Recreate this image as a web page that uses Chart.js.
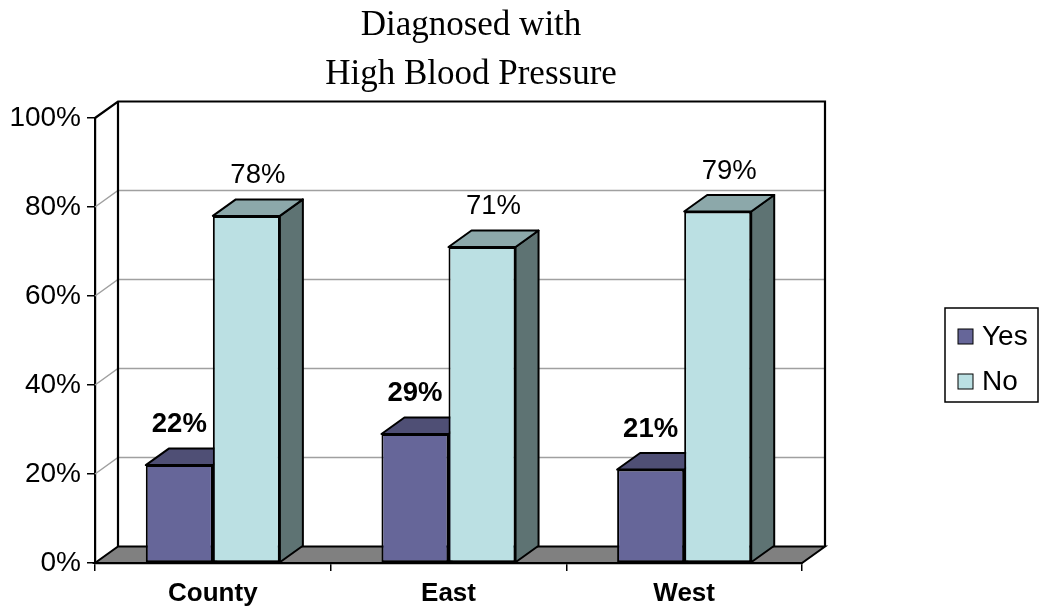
<!DOCTYPE html>
<html>
<head>
<meta charset="utf-8">
<script src="https://cdn.jsdelivr.net/npm/chart.js@4"></script>
<style>
  html, body { margin: 0; padding: 0; background: #ffffff; }
  #wrap { width: 1040px; height: 609px; position: relative; }
</style>
</head>
<body>
<div id="wrap"><canvas id="c" width="1040" height="609"></canvas></div>
<script>
// ---- data ----
const titleLines = ['Diagnosed with', 'High Blood Pressure'];
const categories = ['County', 'East', 'West'];
const seriesNames = ['Yes', 'No'];
const yesValues = [22, 29, 21];
const noValues = [78, 71, 79];
const yTickValues = [0, 20, 40, 60, 80, 100];

// ---- styles ----
const SANS = "'Liberation Sans', Arial, sans-serif";
const SERIF = "'Liberation Serif', 'Times New Roman', serif";
const DX = 23, DY = -16.5;
const faceColors = {
  Yes: { front: '#666699', top: '#4f4f75', side: '#3d3d5c' },
  No:  { front: '#bbe0e3', top: '#8ca8aa', side: '#5e7373' }
};

const threeD = {
  id: 'threeD',
  beforeDatasetsDraw(chart) {
    const ctx = chart.ctx;
    const { left: L, right: R, top: T, bottom: B } = chart.chartArea;
    const ys = chart.scales.y;
    ctx.save();
    // back wall
    ctx.fillStyle = '#ffffff';
    ctx.fillRect(L + DX, T + DY, R - L, B - T);
    // gridlines on back wall and left wall
    ctx.strokeStyle = '#a0a0a0';
    ctx.lineWidth = 1.5;
    yTickValues.forEach(v => {
      if (v === 0 || v === 100) return;
      const y = ys.getPixelForValue(v);
      ctx.beginPath();
      ctx.moveTo(L, y);
      ctx.lineTo(L + DX, y + DY);
      ctx.lineTo(R + DX, y + DY);
      ctx.stroke();
    });
    // wall borders
    ctx.strokeStyle = '#000';
    ctx.lineWidth = 2.2;
    ctx.beginPath();
    ctx.moveTo(L, T);
    ctx.lineTo(L + DX, T + DY);
    ctx.lineTo(R + DX, T + DY);
    ctx.lineTo(R + DX, B + DY);
    ctx.moveTo(L + DX, T + DY);
    ctx.lineTo(L + DX, B + DY);
    ctx.stroke();
    // floor
    ctx.fillStyle = '#808080';
    ctx.beginPath();
    ctx.moveTo(L, B);
    ctx.lineTo(R, B);
    ctx.lineTo(R + DX, B + DY);
    ctx.lineTo(L + DX, B + DY);
    ctx.closePath();
    ctx.fill();
    ctx.lineWidth = 2;
    ctx.stroke();
    // bar tops and sides
    ctx.lineWidth = 2;
    ctx.lineJoin = 'round';
    chart.data.datasets.forEach((ds, di) => {
      const meta = chart.getDatasetMeta(di);
      const col = faceColors[ds.label];
      meta.data.forEach(bar => {
        const p = bar.getProps(['x', 'y', 'base', 'width'], true);
        const x0 = p.x - p.width / 2, x1 = p.x + p.width / 2;
        const y = p.y, b = p.base;
        // side
        ctx.fillStyle = col.side;
        ctx.beginPath();
        ctx.moveTo(x1, y);
        ctx.lineTo(x1 + DX, y + DY);
        ctx.lineTo(x1 + DX, b + DY);
        ctx.lineTo(x1, b);
        ctx.closePath();
        ctx.fill();
        ctx.stroke();
        // top
        ctx.fillStyle = col.top;
        ctx.beginPath();
        ctx.moveTo(x0, y);
        ctx.lineTo(x1, y);
        ctx.lineTo(x1 + DX, y + DY);
        ctx.lineTo(x0 + DX, y + DY);
        ctx.closePath();
        ctx.fill();
        ctx.stroke();
      });
    });
    ctx.restore();
  },
  afterDatasetsDraw(chart) {
    const ctx = chart.ctx;
    ctx.save();
    ctx.fillStyle = '#000';
    ctx.textAlign = 'center';
    ctx.textBaseline = 'middle';
    chart.data.datasets.forEach((ds, di) => {
      const meta = chart.getDatasetMeta(di);
      ctx.font = (di === 0 ? 'bold ' : '') + '27.5px ' + SANS;
      meta.data.forEach((bar, i) => {
        const p = bar.getProps(['x', 'y'], true);
        const lx = di === 0 ? p.x : p.x + DX / 2;
        ctx.fillText(ds.data[i] + '%', lx, p.y + DY - 24);
      });
    });
    ctx.restore();
  },
  afterDraw(chart) {
    const ctx = chart.ctx;
    ctx.save();
    // title
    ctx.fillStyle = '#000';
    ctx.textAlign = 'center';
    ctx.textBaseline = 'alphabetic';
    ctx.font = '35px ' + SERIF;
    ctx.fillText(titleLines[0], 471, 35);
    ctx.fillText(titleLines[1], 471, 84);
    // legend
    ctx.strokeStyle = '#000';
    ctx.lineWidth = 1.5;
    ctx.strokeRect(945, 308, 93, 94);
    const rowsY = [336, 381];
    ctx.font = '28px ' + SANS;
    ctx.textAlign = 'left';
    ctx.textBaseline = 'middle';
    chart.data.datasets.forEach((ds, di) => {
      const cy = rowsY[di];
      ctx.fillStyle = faceColors[ds.label].front;
      ctx.fillRect(958, cy - 7, 15, 15);
      ctx.lineWidth = 1;
      ctx.strokeRect(958, cy - 7, 15, 15);
      ctx.fillStyle = '#000';
      ctx.fillText(ds.label, 982, cy + 1);
    });
    ctx.restore();
  }
};

new Chart(document.getElementById('c'), {
  type: 'bar',
  data: {
    labels: categories,
    datasets: [
      { label: seriesNames[0], data: yesValues, backgroundColor: faceColors.Yes.front,
        borderColor: '#000', borderWidth: 2, borderSkipped: false },
      { label: seriesNames[1], data: noValues, backgroundColor: faceColors.No.front,
        borderColor: '#000', borderWidth: 2, borderSkipped: false }
    ]
  },
  options: {
    responsive: false,
    animation: false,
    devicePixelRatio: 1,
    layout: { padding: { top: 118, right: 238, bottom: 0, left: 0 } },
    datasets: { bar: { categoryPercentage: 0.569, barPercentage: 1.0 } },
    plugins: { legend: { display: false }, title: { display: false }, tooltip: { enabled: false } },
    scales: {
      x: {
        afterFit(s) { s.height = 46; },
        grid: { drawOnChartArea: false, drawTicks: true, tickLength: 8, color: '#000', lineWidth: 1.5, offset: true },
        border: { display: true, color: '#000', width: 2.2 },
        ticks: { color: '#000', padding: 7, font: { family: SANS, size: 26, weight: 'bold' } }
      },
      y: {
        min: 0, max: 100,
        afterFit(s) { s.width = 95; },
        afterBuildTicks(s) { s.ticks = yTickValues.map(v => ({ value: v })); },
        grid: { drawOnChartArea: false, drawTicks: true, tickLength: 8, color: '#000', lineWidth: 1.5 },
        border: { display: true, color: '#000', width: 2.2 },
        ticks: { color: '#000', padding: 6, font: { family: SANS, size: 28 }, callback: v => v + '%' }
      }
    }
  },
  plugins: [threeD]
});
</script>
</body>
</html>
